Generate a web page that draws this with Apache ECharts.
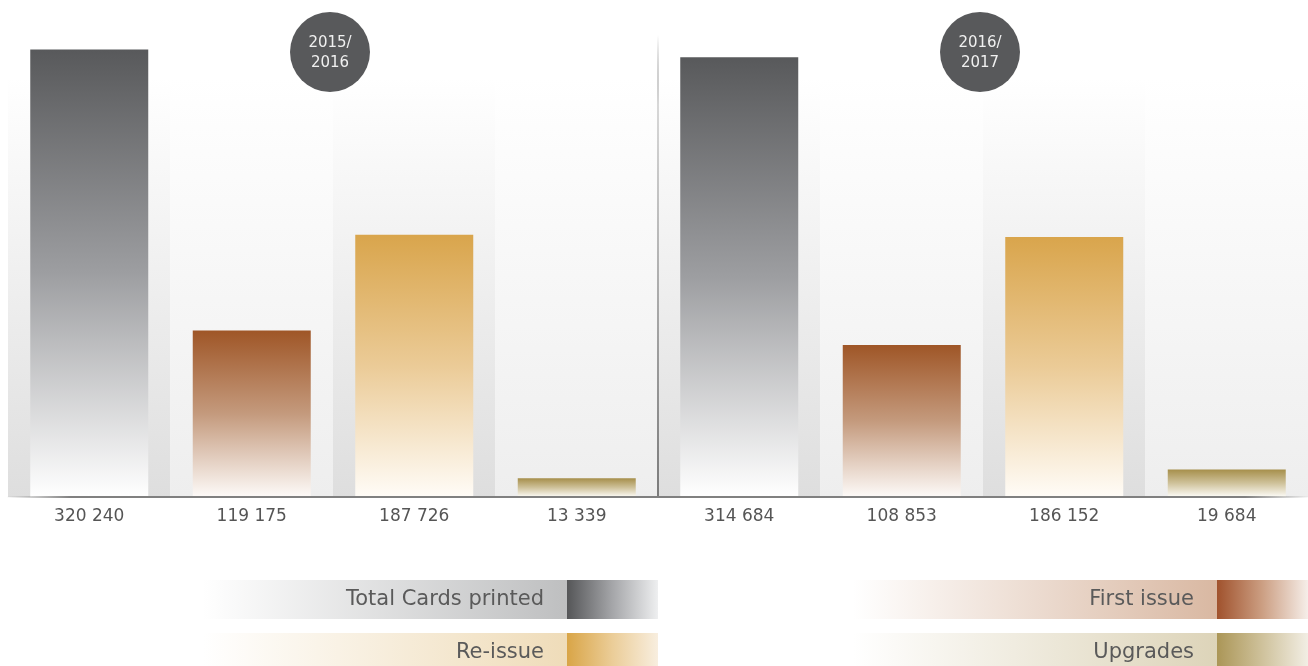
<!DOCTYPE html>
<html>
<head>
<meta charset="utf-8">
<script src="https://cdn.jsdelivr.net/npm/echarts@6/dist/echarts.min.js"></script>
<style>
  html, body { margin: 0; padding: 0; background: #fff; }
  #chart { width: 1308px; height: 666px; }
</style>
</head>
<body>
<div id="chart"></div>
<script>
// --- data ---
const seasons = ['2015/\n2016', '2016/\n2017'];
const cardTypes = ['Total Cards printed', 'First issue', 'Re-issue', 'Upgrades'];
const cards2015 = [320240, 119175, 187726, 13339];
const cards2016 = [314684, 108853, 186152, 19684];

// colours per card type: [top of bar, middle, bottom]
const typeColors = [
  ['#58595b', '#9d9ea1', '#ffffff'],
  ['#9f5627', '#c49a7d', '#fdfaf8'],
  ['#d9a54c', '#ebcb97', '#fffcf7'],
  ['#a68f4b', '#cfc29b', '#fdfcf8']
];
// legend strip tint + swatch
const legendTint = ['#bebfc0', '#d9b8a2', '#efdcb9', '#ddd4b9'];
const legendSwatch = [
  ['#555658', '#a5a6a9', '#eeeff0'],
  ['#a0522d', '#cc9f83', '#f6eee9'],
  ['#d9a547', '#ebcd98', '#f8eedf'],
  ['#ab9657', '#cfc29c', '#f2eee4']
];

const values = cards2015.concat(cards2016);
const fmt = v => String(v).replace(/\B(?=(\d{3})+(?!\d))/g, ' ');
const categories = values.map(fmt);

function vGrad(stops) {
  return new echarts.graphic.LinearGradient(0, 0, 0, 1, [
    { offset: 0, color: stops[0] },
    { offset: 0.5, color: stops[1] },
    { offset: 1, color: stops[2] }
  ]);
}

const barData = values.map((v, i) => ({
  value: v,
  itemStyle: { color: vGrad(typeColors[i % 4]) }
}));

// soft backdrop behind every column, alternating shade
const backdropTop = 300000;
const backdropData = values.map((v, i) => ({
  value: backdropTop,
  itemStyle: {
    color: new echarts.graphic.LinearGradient(0, 0, 0, 1, [
      { offset: 0, color: '#ffffff' },
      { offset: 1, color: i % 2 === 0 ? '#dedede' : '#eeeeee' }
    ])
  }
}));

// legend drawn as gradient strips
function legendItem(idx, x, y) {
  const stripW = 364, swatchW = 91, h = 39;
  return [
    {
      type: 'rect', left: x, top: y, z: 100,
      shape: { width: stripW, height: h },
      style: {
        fill: new echarts.graphic.LinearGradient(0, 0, 1, 0, [
          { offset: 0, color: 'rgba(255,255,255,1)' },
          { offset: 1, color: legendTint[idx] }
        ])
      }
    },
    {
      type: 'rect', left: x + stripW, top: y, z: 100,
      shape: { width: swatchW, height: h },
      style: {
        fill: new echarts.graphic.LinearGradient(0, 0, 1, 0, [
          { offset: 0, color: legendSwatch[idx][0] },
          { offset: 0.5, color: legendSwatch[idx][1] },
          { offset: 1, color: legendSwatch[idx][2] }
        ])
      }
    },
    {
      type: 'text', z: 101,
      x: x + stripW - 23, y: y + h / 2,
      style: {
        text: cardTypes[idx],
        fill: '#5a5a5a',
        font: '21px "DejaVu Sans"',
        align: 'right',
        verticalAlign: 'middle'
      }
    }
  ];
}

function seasonBadge(label, cx) {
  return [
    { type: 'circle', z: 100, shape: { cx: cx, cy: 52, r: 40 }, style: { fill: '#58595b' } },
    {
      type: 'text', z: 101, x: cx, y: 53,
      style: {
        text: label, fill: '#f0f0f0',
        font: '15px "DejaVu Sans"',
        lineHeight: 20,
        align: 'center', verticalAlign: 'middle'
      }
    }
  ];
}

const chart = echarts.init(document.getElementById('chart'));

const option = {
  animation: false,
  backgroundColor: '#ffffff',
  grid: { left: 8, right: 0, top: 8, bottom: 169 },
  xAxis: [
    {
      type: 'category',
      data: categories,
      z: 6,
      axisLine: {
        lineStyle: {
          width: 2,
          color: new echarts.graphic.LinearGradient(0, 0, 1, 0, [
            { offset: 0, color: 'rgba(128,128,128,0)' },
            { offset: 0.05, color: '#808080' },
            { offset: 0.95, color: '#808080' },
            { offset: 1, color: 'rgba(128,128,128,0)' }
          ])
        }
      },
      axisTick: { show: false },
      axisLabel: {
        color: '#555555',
        fontSize: 17,
        fontFamily: 'DejaVu Sans',
        margin: 11
      }
    },
    {
      // hidden axis: only carries the season divider
      type: 'category',
      data: categories,
      z: 5,
      axisLine: { show: false },
      axisTick: { show: false },
      axisLabel: { show: false },
      splitLine: {
        show: true,
        showMinLine: false,
        showMaxLine: false,
        interval: 3,
        lineStyle: {
          width: 2,
          color: new echarts.graphic.LinearGradient(0, 0, 0, 1, [
            { offset: 0, color: 'rgba(120,120,120,0)' },
            { offset: 0.06, color: 'rgba(120,120,120,0)' },
            { offset: 0.2, color: '#d8d8d8' },
            { offset: 1, color: '#7a7a7a' }
          ])
        }
      }
    }
  ],
  yAxis: {
    type: 'value',
    min: 0,
    max: 350000,
    show: false
  },
  series: [
    {
      name: 'backdrop',
      type: 'bar',
      xAxisIndex: 1,
      barWidth: '100%',
      z: 1,
      silent: true,
      data: backdropData
    },
    {
      name: 'cards',
      type: 'bar',
      xAxisIndex: 0,
      barWidth: 118,
      z: 2,
      data: barData
    }
  ],
  graphic: [
    ...seasonBadge(seasons[0], 330),
    ...seasonBadge(seasons[1], 980),
    ...legendItem(0, 203, 580),
    ...legendItem(1, 853, 580),
    ...legendItem(2, 203, 633),
    ...legendItem(3, 853, 633)
  ]
};

chart.setOption(option);
</script>
</body>
</html>
